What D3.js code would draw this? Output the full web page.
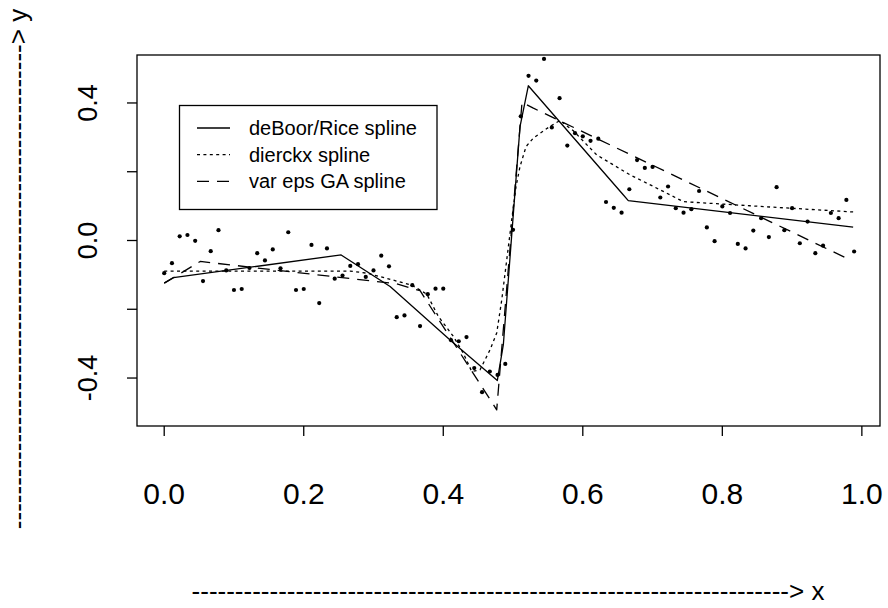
<!DOCTYPE html>
<html>
<head>
<meta charset="utf-8">
<script src="https://cdn.jsdelivr.net/npm/d3@7/dist/d3.min.js"></script>
<style>
  body { margin: 0; background: #fff; }
  svg { display: block; font-family: "Liberation Sans", Arial, Helvetica, sans-serif; }
</style>
</head>
<body>
<svg id="chart" width="888" height="608"></svg>
<script>
// observed data points
const OBS_X = [
  0, 0.0111, 0.0222, 0.0333, 0.0444, 0.0556, 0.0667, 0.0778, 0.0889, 0.1,
  0.1111, 0.1222, 0.1333, 0.1444, 0.1556, 0.1667, 0.1778, 0.1889, 0.2, 0.2111,
  0.2222, 0.2333, 0.2444, 0.2556, 0.2667, 0.2778, 0.2889, 0.3, 0.3111, 0.3222,
  0.3333, 0.3444, 0.3556, 0.3667, 0.3778, 0.3889, 0.4, 0.4111, 0.4222, 0.4333,
  0.4444, 0.4556, 0.4667, 0.4778, 0.4889, 0.5, 0.5111, 0.5222, 0.5333, 0.5444,
  0.5556, 0.5667, 0.5778, 0.5889, 0.6, 0.6111, 0.6222, 0.6333, 0.6444, 0.6556,
  0.6667, 0.6778, 0.6889, 0.7, 0.7111, 0.7222, 0.7333, 0.7444, 0.7556, 0.7667,
  0.7778, 0.7889, 0.8, 0.8111, 0.8222, 0.8333, 0.8444, 0.8556, 0.8667, 0.8778,
  0.8889, 0.9, 0.9111, 0.9222, 0.9333, 0.9444, 0.9556, 0.9667, 0.9778, 0.9889,
];
const OBS_Y = [
  -0.095, -0.066, 0.012, 0.016, -0.001, -0.118, -0.031, 0.030, -0.087, -0.144,
  -0.141, -0.080, -0.037, -0.058, -0.026, -0.081, 0.024, -0.144, -0.141, -0.013,
  -0.182, -0.023, -0.111, -0.102, -0.074, -0.069, -0.106, -0.087, -0.044, -0.075,
  -0.223, -0.218, -0.130, -0.249, -0.156, -0.140, -0.140, -0.290, -0.293, -0.281,
  -0.371, -0.441, -0.381, -0.391, -0.359, 0.031, 0.361, 0.479, 0.465, 0.528,
  0.329, 0.414, 0.276, 0.312, 0.303, 0.290, 0.296, 0.112, 0.095, 0.081,
  0.149, 0.234, 0.211, 0.214, 0.125, 0.157, 0.094, 0.081, 0.091, 0.144,
  0.038, -0.002, 0.099, 0.080, -0.010, -0.023, 0.029, 0.065, 0.010, 0.155,
  0.030, 0.094, -0.008, 0.055, -0.037, -0.015, 0.080, 0.065, 0.118, -0.032,
];

// deBoor/Rice spline
const DEBOOR_X = [0, 0.0133, 0.2536, 0.3238, 0.4122, 0.4775, 0.4861, 0.51, 0.5219, 0.6557, 0.6652, 0.9875];
const DEBOOR_Y = [-0.124, -0.108, -0.042, -0.134, -0.294, -0.407, -0.303, 0.331, 0.45, 0.138, 0.116, 0.039];

// dierckx spline
const DIERCKX_X = [
  0, 0.2665, 0.2904, 0.3095, 0.3549, 0.3764, 0.393, 0.4145, 0.4288, 0.4408,
  0.4527, 0.467, 0.4766, 0.4838, 0.491, 0.4981, 0.5043, 0.51, 0.5186, 0.5291,
  0.553, 0.5673, 0.5864, 0.6199, 0.6676, 0.7153, 0.744, 0.7918, 0.8395, 0.9875,
];
const DIERCKX_Y = [
  -0.089, -0.089, -0.095, -0.105, -0.13, -0.156, -0.221, -0.279, -0.328, -0.381,
  -0.376, -0.318, -0.269, -0.173, -0.056, 0.06, 0.157, 0.215, 0.273, 0.298,
  0.332, 0.349, 0.319, 0.249, 0.191, 0.143, 0.113, 0.107, 0.101, 0.083,
];

// var eps GA spline
const GA_X = [0, 0.0516, 0.3334, 0.3668, 0.4766, 0.5129, 0.5291, 0.9828];
const GA_Y = [-0.124, -0.061, -0.126, -0.146, -0.4925, 0.402, 0.385, -0.056];

const X_TICKS = [0, 0.2, 0.4, 0.6, 0.8, 1.0];
const Y_TICKS = [-0.4, -0.2, 0, 0.2, 0.4];
const Y_TICK_LABELS = [-0.4, 0, 0.4];

const SERIES = [
  { name: "deBoor/Rice spline", xs: DEBOOR_X, ys: DEBOOR_Y, dash: null },
  { name: "dierckx spline", xs: DIERCKX_X, ys: DIERCKX_Y, dash: "3,3.4" },
  { name: "var eps GA spline", xs: GA_X, ys: GA_Y, dash: "12,8" },
];

const BOX = { left: 137, right: 880, top: 55, bottom: 426 };
const TICK_LEN = 10;

const svg = d3.select("#chart");
svg.append("rect").attr("width", 888).attr("height", 608).attr("fill", "#fff");

const x = d3.scaleLinear().domain([-0.039, 1.026]).range([BOX.left, BOX.right]);
const y = d3.scaleLinear().domain([-0.5395, 0.5395]).range([BOX.bottom, BOX.top]);

// plot box
svg.append("rect")
  .attr("x", BOX.left)
  .attr("y", BOX.top)
  .attr("width", BOX.right - BOX.left)
  .attr("height", BOX.bottom - BOX.top)
  .attr("fill", "none")
  .attr("stroke", "#000")
  .attr("stroke-width", 1.3);

// x axis
const xAxis = svg.append("g").attr("id", "x");
xAxis.selectAll("line")
  .data(X_TICKS)
  .join("line")
  .attr("x1", (d) => x(d))
  .attr("x2", (d) => x(d))
  .attr("y1", BOX.bottom)
  .attr("y2", BOX.bottom + TICK_LEN)
  .attr("stroke", "#000")
  .attr("stroke-width", 1.3);
xAxis.selectAll("text")
  .data(X_TICKS)
  .join("text")
  .attr("x", (d) => x(d))
  .attr("y", 504)
  .attr("text-anchor", "middle")
  .style("font-size", "30px")
  .text((d) => d.toFixed(1));

// y axis
const yAxis = svg.append("g").attr("id", "y");
yAxis.selectAll("line")
  .data(Y_TICKS)
  .join("line")
  .attr("x1", BOX.left)
  .attr("x2", BOX.left - TICK_LEN)
  .attr("y1", (d) => y(d))
  .attr("y2", (d) => y(d))
  .attr("stroke", "#000")
  .attr("stroke-width", 1.3);
yAxis.selectAll("text")
  .data(Y_TICK_LABELS)
  .join("text")
  .attr("transform", (d) => "translate(97," + y(d) + ") rotate(-90)")
  .attr("text-anchor", "middle")
  .style("font-size", "27px")
  .text((d) => d.toFixed(1));

// axis titles
svg.append("text")
  .attr("x", 508)
  .attr("y", 600)
  .attr("text-anchor", "middle")
  .style("font-size", "26px")
  .text("-".repeat(69) + "> x");
svg.append("text")
  .attr("transform", "translate(27,269) rotate(-90)")
  .attr("text-anchor", "middle")
  .style("font-size", "26px")
  .text("-".repeat(56) + "> y");

// points
svg.append("g")
  .attr("id", "dots")
  .selectAll("circle")
  .data(d3.zip(OBS_X, OBS_Y))
  .join("circle")
  .attr("cx", (d) => x(d[0]))
  .attr("cy", (d) => y(d[1]))
  .attr("r", 2.1)
  .attr("fill", "#000");

// spline curves
const line = d3.line().x((d) => x(d[0])).y((d) => y(d[1]));
svg.append("g")
  .attr("id", "lines")
  .selectAll("path")
  .data(SERIES)
  .join("path")
  .attr("d", (s) => line(d3.zip(s.xs, s.ys)))
  .attr("fill", "none")
  .attr("stroke", "#000")
  .attr("stroke-width", 1.3)
  .attr("stroke-linejoin", "round")
  .attr("stroke-dasharray", (s) => s.dash);

// legend
const legend = svg.append("g").attr("id", "legend");
legend.append("rect")
  .attr("x", 179.5)
  .attr("y", 105.5)
  .attr("width", 257.5)
  .attr("height", 104)
  .attr("fill", "#fff")
  .attr("stroke", "#000")
  .attr("stroke-width", 1.3);
const rows = legend.selectAll("g")
  .data(SERIES)
  .join("g")
  .attr("transform", (d, i) => "translate(0," + (128 + i * 26.7) + ")");
rows.append("line")
  .attr("x1", 197)
  .attr("x2", 230)
  .attr("stroke", "#000")
  .attr("stroke-width", 1.3)
  .attr("stroke-dasharray", (s) => s.dash);
rows.append("text")
  .attr("x", 249)
  .attr("y", 7)
  .style("font-size", "20px")
  .text((s) => s.name);
</script>
</body>
</html>
